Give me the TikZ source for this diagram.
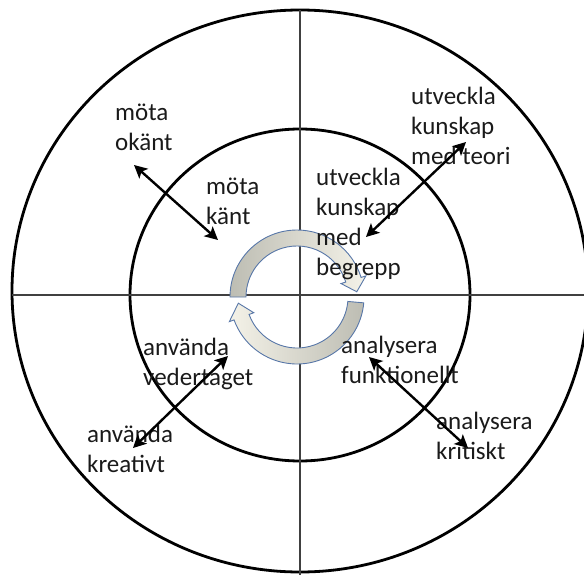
\documentclass[tikz,border=0pt]{standalone}
\usepackage{fontspec}
\setmainfont{Carlito}
\usetikzlibrary{arrows.meta,positioning,calc}
\definecolor{Ink}{HTML}{1A1A1A}
\definecolor{Axis}{HTML}{404040}
\definecolor{Rim}{HTML}{5877A8}
\definecolor{Stone}{HTML}{BDBDB3}
\definecolor{Cream}{HTML}{F4F2E8}

\begin{document}
\begin{tikzpicture}[
    x=1pt, y=-1pt,
    ring/.style={draw=black, line width=2.8pt},
    axis/.style={draw=Axis, line width=1.6pt},
    word/.style={anchor=base west, align=left, inner sep=0pt, text=Ink, font=\fontsize{25}{30}\selectfont},
    arrow/.style={{Stealth[length=13pt,width=13pt,inset=3pt]}-{Stealth[length=13pt,width=13pt,inset=3pt]}, line width=2.4pt, black},
    turn/.style={draw=Rim, line width=0.9pt},
]
    \useasboundingbox (0,0) rectangle (584,575);

    % rings and axes
    \draw[ring] (300,291) ellipse[x radius=288, y radius=281];
    \draw[ring] (300,295) ellipse[x radius=170, y radius=166];
    \coordinate (west) at (12,295);
    \coordinate (east) at (584,295);
    \coordinate (north) at (300,10);
    \coordinate (south) at (300,575);
    \draw[axis] (west) -- (east);
    \draw[axis] (north) -- (south);

    % cycle in the middle
    \coordinate (hub) at (297,297);
    \shadedraw[turn, left color=Stone, right color=Cream, shift={(hub)}]
        (180:67) arc[start angle=180, end angle=343, radius=67] -- (343:72)
        -- (355:60) -- (343:46) -- (343:51)
        arc[start angle=343, end angle=180, radius=51] -- cycle;
    \shadedraw[turn, left color=Cream, right color=Stone, shift={(hub)}]
        (5:67) arc[start angle=5, end angle=160, radius=67] -- (160:72)
        -- (174:59) -- (160:46) -- (160:51)
        arc[start angle=160, end angle=5, radius=51] -- cycle;

    % labels (base = last line)
    \node[word] (okant) at (115,151) {möta\\okänt};
    \node[word] (kant) at (206,224) {möta\\känt};
    \node[word] (teori) at (411,165) {utveckla\\kunskap\\med teori};
    \node[word] (begrepp) at (316,275) {utveckla\\kunskap\\med\\begrepp};
    \node[word] (vedertaget) at (143,385) {använda\\vedertaget};
    \node[word] (kreativt) at (87,472) {använda\\kreativt};
    \node[word] (funktionellt) at (341,383) {analysera\\funktionellt};
    \node[word] (kritiskt) at (436,459) {analysera\\kritiskt};

    % two-way arrows
    \coordinate (nwOut) at (134,165);
    \coordinate (nwIn) at (218,240);
    \coordinate (neOut) at (466,142);
    \coordinate (neIn) at (366,237);
    \coordinate (swOut) at (133,448);
    \coordinate (swIn) at (228,356);
    \coordinate (seOut) at (468,448);
    \coordinate (seIn) at (369,357);
    \draw[arrow] (nwOut) -- (nwIn);
    \draw[arrow] (neIn) -- (neOut);
    \draw[arrow] (swOut) -- (swIn);
    \draw[arrow] (seIn) -- (seOut);
\end{tikzpicture}
\end{document}
